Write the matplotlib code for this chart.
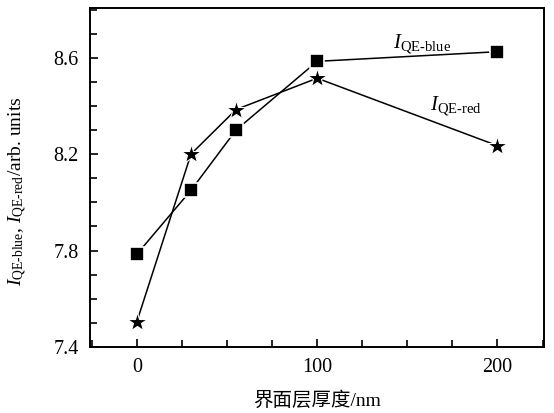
import numpy as np
import matplotlib.pyplot as plt
from matplotlib.ticker import MultipleLocator, FixedLocator

plt.rcParams['font.family'] = ['Liberation Serif', 'Noto Sans CJK SC']
plt.rcParams['mathtext.fontset'] = 'custom'
plt.rcParams['mathtext.rm'] = 'Liberation Serif'
plt.rcParams['mathtext.it'] = 'Liberation Serif:italic'

# data
thickness = [0, 30, 55, 100, 200]
qe_blue = [7.785, 8.05, 8.30, 8.585, 8.625]
qe_red = [7.505, 8.20, 8.385, 8.515, 8.235]

fig = plt.figure(figsize=(5.54, 4.13), dpi=100)
ax = fig.add_axes([0.1625, 0.16, 0.82, 0.821])

ax.plot(thickness, qe_blue, '-', color='black', lw=1.1, marker='s', ms=9.5,
        mec='white', mew=1.2, mfc='black')
ax.plot(thickness, qe_red, '-', color='black', lw=1.1, marker='*', ms=15,
        mec='white', mew=0.8, mfc='black')

# curve labels
fig.text(393 / 554, 1 - 48 / 413, r'$I_{\mathrm{QE\text{-}blue}}$', fontsize=15)
fig.text(430 / 554, 1 - 110 / 413, r'$I_{\mathrm{QE\text{-}red}}$', fontsize=15)

ax.set_xlim(-26, 226)
ax.set_ylim(7.4, 8.807)

ax.xaxis.set_major_locator(FixedLocator([0, 100, 200]))
ax.xaxis.set_minor_locator(MultipleLocator(25))
ax.yaxis.set_major_locator(FixedLocator([7.4, 7.8, 8.2, 8.6]))
ax.yaxis.set_minor_locator(MultipleLocator(0.1))
ax.set_yticklabels(['7.4', '7.8', '8.2', '8.6'])

ax.tick_params(which='both', direction='in', top=False, right=False,
               labelsize=14.5, width=1.2)
ax.tick_params(which='major', length=6, pad=8)
ax.tick_params(which='minor', length=5)
for s in ax.spines.values():
    s.set_linewidth(1.4)

ax.set_xlabel('界面层厚度/nm', fontsize=14, labelpad=10)
ax.set_ylabel(r'$I_{\mathrm{QE\text{-}blue}}$, $I_{\mathrm{QE\text{-}red}}$/arb. units',
              fontsize=14)
ax.yaxis.set_label_coords(-0.135, 0.46)

fig.savefig('out.png', dpi=100)
